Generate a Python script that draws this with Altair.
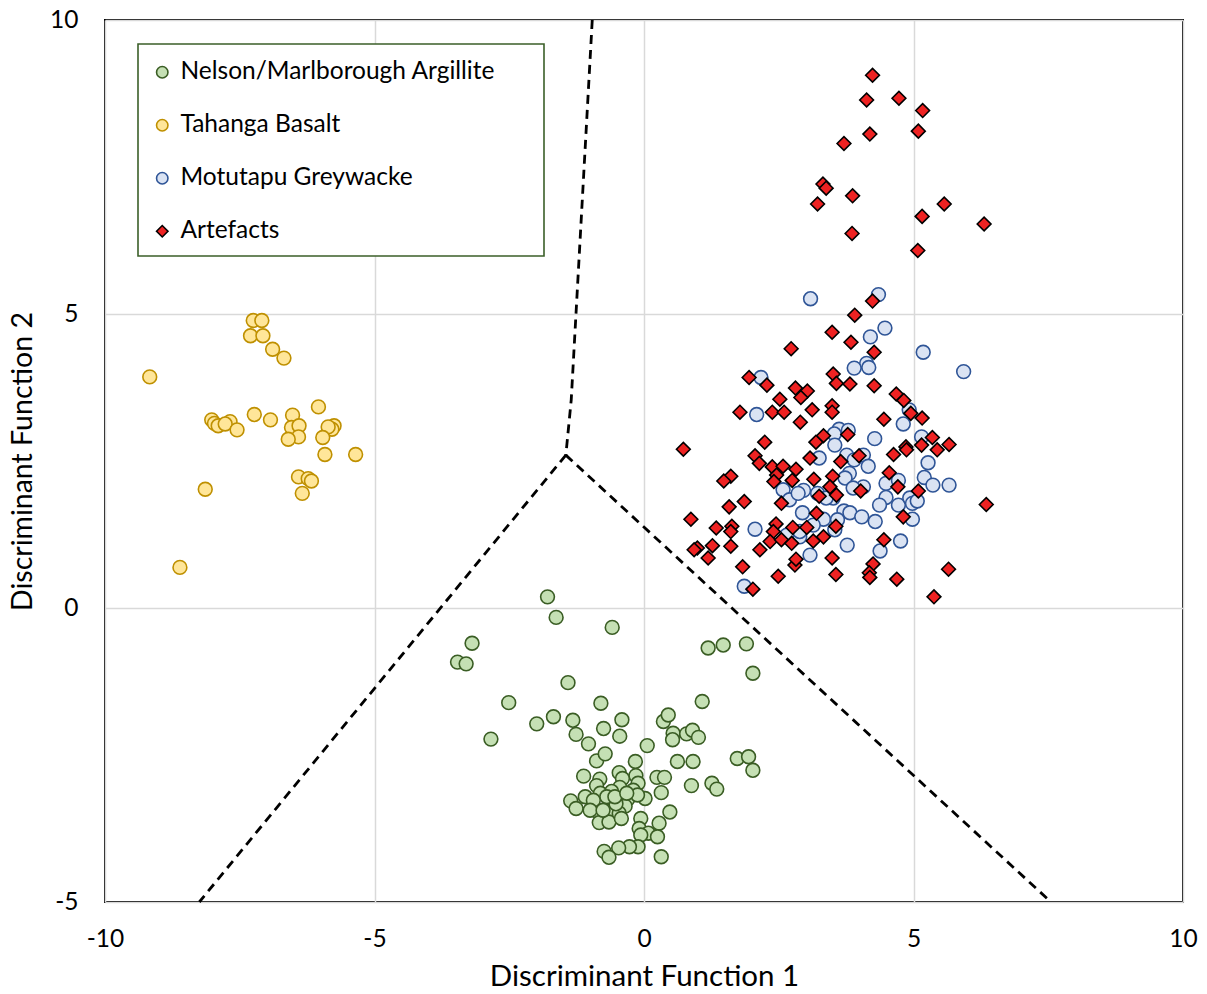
import altair as alt
import pandas as pd

# ---------------- data ----------------
groups = ["Nelson/Marlborough Argillite", "Tahanga Basalt", "Motutapu Greywacke", "Artefacts"]

green_x = [-1.79, -1.63, -0.59, -3.19, -3.46, -3.30, 1.19, 1.47, 1.90, 2.02, -1.41, -2.51, -0.80, 1.08,
           -1.99, -1.68, -1.32, -2.84, -1.26, -0.75, -0.41, -0.45, -1.03, -0.88, -0.72, -0.16, 0.06, 0.36,
           0.45, 0.54, 0.53, 0.79, 0.90, 1.01, 0.62, 0.91, 1.73, 1.94, 2.02, -1.12, 0.24, 0.38, 0.32, 0.88,
           1.26, 1.35, 0.02, 0.48, 0.28, -0.06, -0.09, 0.08, -0.06, 0.25, 0.32, -0.11, -0.27, -0.47, -0.74,
           -0.65, -1.36, -1.26, -1.09, -0.82, -0.46, -0.15, -0.11, -0.40, -0.88, -0.81, -0.45, -0.60, -0.20,
           -0.30, -0.12, -0.35, -0.88, -0.62, -0.83, -0.65, -0.46, -0.42, -0.52, -0.69, -0.94, -0.54, -1.00,
           -0.76, -0.32]
green_y = [0.19, -0.16, -0.33, -0.60, -0.92, -0.95, -0.68, -0.63, -0.61, -1.11, -1.27, -1.61, -1.62, -1.59,
           -1.97, -1.85, -1.91, -2.23, -2.15, -2.05, -1.90, -2.18, -2.31, -2.60, -2.48, -2.61, -2.34, -1.93,
           -1.82, -2.13, -2.24, -2.14, -2.08, -2.20, -2.61, -2.61, -2.56, -2.53, -2.76, -2.86, -2.88, -2.88,
           -3.14, -3.02, -2.98, -3.08, -3.24, -3.47, -3.66, -3.58, -3.75, -3.83, -3.86, -3.89, -4.23, -4.06,
           -4.06, -4.08, -4.14, -4.24, -3.28, -3.41, -3.21, -2.91, -2.80, -2.85, -2.98, -2.90, -3.02, -3.15,
           -3.05, -3.12, -3.10, -3.25, -3.18, -3.37, -3.45, -3.45, -3.65, -3.64, -3.49, -3.58, -3.33, -3.21,
           -3.27, -3.21, -3.44, -3.44, -3.15]

yellow_x = [-7.25, -7.09, -7.30, -7.07, -6.89, -6.68, -9.17, -6.04, -7.23, -6.93, -6.52, -8.02, -7.97,
            -7.90, -7.68, -7.77, -7.55, -6.54, -6.40, -6.41, -6.60, -5.75, -5.79, -5.86, -5.96, -5.92,
            -5.35, -6.41, -6.23, -6.17, -6.34, -8.14, -8.61]
yellow_y = [4.89, 4.89, 4.63, 4.63, 4.40, 4.25, 3.93, 3.42, 3.29, 3.20, 3.28, 3.20, 3.14, 3.10, 3.17,
            3.13, 3.03, 3.07, 3.10, 2.91, 2.87, 3.10, 3.04, 3.08, 2.90, 2.61, 2.61, 2.23, 2.20, 2.16,
            1.95, 2.02, 0.69]

blue_x = [3.09, 2.17, 2.09, 4.35, 4.47, 4.20, 5.18, 5.93, 4.13, 4.17, 3.90, 4.92, 4.81, 3.62, 3.79, 3.53,
          4.28, 5.15, 3.54, 3.25, 2.58, 2.70, 2.96, 2.94, 3.33, 2.06, 2.89, 2.65, 3.08, 1.86, 3.51, 3.14,
          4.07, 4.16, 3.81, 3.73, 4.49, 4.72, 5.27, 5.20, 5.36, 5.66, 4.07, 4.49, 4.37, 4.72, 4.93, 4.98,
          5.07, 4.98, 3.71, 3.82, 4.04, 4.29, 3.59, 3.54, 4.76, 4.38, 3.77, 3.76, 3.90, 3.22, 3.38, 2.89,
          2.86, 3.88]
blue_y = [5.26, 3.92, 3.29, 5.33, 4.76, 4.61, 4.35, 4.02, 4.16, 4.09, 4.08, 3.37, 3.13, 3.04, 3.02, 2.96,
          2.88, 2.91, 2.77, 2.55, 2.01, 1.84, 2.00, 1.62, 1.51, 1.34, 1.21, 1.24, 0.90, 0.37, 1.87, 1.41,
          2.60, 2.41, 2.29, 2.21, 2.12, 2.17, 2.47, 2.22, 2.09, 2.09, 2.06, 1.88, 1.75, 1.75, 1.87, 1.78,
          1.82, 1.51, 1.65, 1.62, 1.55, 1.47, 1.50, 1.33, 1.14, 0.97, 1.07, 2.60, 2.52, 1.95, 1.87, 1.30,
          1.95, 2.04]

red_x = [4.24, 4.13, 4.73, 5.17, 5.09, 4.19, 3.71, 3.32, 3.38, 3.87, 3.22, 5.57, 5.16, 6.31, 3.86, 5.08,
         3.49, 2.73, 1.95, 2.28, 3.51, 3.57, 2.81, 3.03, 2.91, 2.52, 1.78, 2.38, 2.60, 3.12, 3.49, 3.49,
         2.90, 3.33, 3.19, 2.24, 0.73,
         4.24, 3.91, 3.84, 4.27, 3.82, 4.27, 4.68, 4.82, 4.95, 5.16, 4.45, 3.78, 5.35, 5.15, 5.66, 4.86,
         2.06, 2.14, 2.38, 2.58, 2.82, 2.46, 3.08, 3.50, 3.15, 2.75, 2.41, 1.61, 1.48, 3.45, 3.25, 3.57,
         1.86, 1.58, 2.55, 3.20, 0.87, 1.34, 1.63, 1.61, 2.45, 2.40, 2.76, 3.02, 3.56, 1.27, 0.99, 0.93,
         1.61, 1.19, 2.15, 2.34, 2.55, 2.74, 3.33, 3.14, 2.80, 2.82, 3.49, 1.83, 2.49, 3.56, 2.02,
         3.99, 4.63, 4.87, 5.44, 3.65, 4.55, 4.71, 5.09, 4.02, 6.35, 4.81, 4.45, 4.25, 4.18, 4.19, 4.69,
         5.65, 5.38]
red_y = [9.06, 8.64, 8.67, 8.46, 8.11, 8.06, 7.90, 7.21, 7.14, 7.01, 6.87, 6.87, 6.66, 6.53, 6.37, 6.08,
         4.69, 4.41, 3.92, 3.79, 3.98, 3.82, 3.74, 3.69, 3.58, 3.55, 3.33, 3.33, 3.33, 3.37, 3.44, 3.33,
         3.16, 2.93, 2.82, 2.82, 2.70,
         5.22, 4.98, 4.52, 4.35, 3.81, 3.78, 3.64, 3.53, 3.31, 3.23, 3.21, 2.95, 2.90, 2.77, 2.78, 2.74,
         2.59, 2.46, 2.40, 2.41, 2.36, 2.26, 2.55, 2.24, 2.19, 2.17, 2.15, 2.24, 2.16, 2.06, 1.90, 1.92,
         1.81, 1.72, 1.78, 1.61, 1.51, 1.36, 1.39, 1.30, 1.43, 1.30, 1.37, 1.37, 1.39, 1.06, 1.02, 0.99,
         1.05, 0.85, 0.99, 1.13, 1.16, 1.10, 1.21, 1.14, 0.73, 0.83, 0.85, 0.70, 0.54, 0.57, 0.32,
         2.59, 2.61, 2.69, 2.69, 2.49, 2.30, 2.06, 1.99, 1.99, 1.76, 1.55, 1.16, 0.75, 0.60, 0.52, 0.49,
         0.66, 0.19]

# dashed discriminant boundaries
line_seg = ["a", "a", "a", "b", "b", "c", "c"]
line_ord = [0, 1, 2, 0, 1, 0, 1]
line_x = [-0.96, -1.35, -1.45, -1.45, -8.25, -1.45, 7.55]
line_y = [10.0, 3.54, 2.60, 2.60, -5.0, 2.60, -5.0]

x_ticks = [-10, -5, 0, 5, 10]
y_ticks = [-5, 0, 5, 10]

fills = ["#C5E0B4", "#FFE699", "#DAE3F3", "#EE2222"]
strokes = ["#3A5D24", "#BF9000", "#2F5597", "#000000"]
shapes = ["circle", "circle", "circle", "diamond"]

# ---------------- build table ----------------
rows = []
for g, xs, ys in [(groups[0], green_x, green_y), (groups[1], yellow_x, yellow_y),
                  (groups[2], blue_x, blue_y), (groups[3], red_x, red_y)]:
    for a, b in zip(xs, ys):
        rows.append({"x": a, "y": b, "group": g})
pts = pd.DataFrame(rows)
lines = pd.DataFrame({"seg": line_seg, "ord": line_ord, "x": line_x, "y": line_y})

FONT = "Lato"

xscale = alt.Scale(domain=[-10, 10], nice=False, zero=False)
yscale = alt.Scale(domain=[-5, 10], nice=False, zero=False)

xaxis = alt.Axis(title="Discriminant Function 1", values=x_ticks, labelExpr="datum.value + ''",
                 grid=True, ticks=False, tickSize=0, domain=False, labelFlush=False,
                 labelPadding=25, titlePadding=12, titleFontSize=29.5)
yaxis = alt.Axis(title="Discriminant Function 2", values=y_ticks, labelExpr="datum.value + ''",
                 grid=True, ticks=False, tickSize=0, domain=False, labelFlush=False,
                 labelPadding=27, titlePadding=12, titleFontSize=28.5)

frame = alt.Chart(pd.DataFrame({"a": [0]})).mark_rect(
    fill="white", stroke="#3B5F28", strokeWidth=1.6
).encode(x=alt.value(33), x2=alt.value(439), y=alt.value(24), y2=alt.value(236))

dash = alt.Chart(lines).mark_line(color="black", strokeDash=[9, 6], strokeWidth=2.8).encode(
    x=alt.X("x:Q", scale=xscale, axis=xaxis),
    y=alt.Y("y:Q", scale=yscale, axis=yaxis),
    detail="seg:N",
    order="ord:Q",
)

leg = alt.Legend(title=None, zindex=2, orient="none", legendX=45, legendY=40)

points = alt.Chart(pts).mark_point(filled=True, opacity=1, strokeWidth=1.6, size=190).encode(
    x=alt.X("x:Q", scale=xscale, axis=xaxis),
    y=alt.Y("y:Q", scale=yscale, axis=yaxis),
    fill=alt.Fill("group:N", scale=alt.Scale(domain=groups, range=fills), legend=leg),
    stroke=alt.Stroke("group:N", scale=alt.Scale(domain=groups, range=strokes), legend=leg),
    shape=alt.Shape("group:N", scale=alt.Scale(domain=groups, range=shapes), legend=leg),
)

chart = alt.layer(frame, dash, points).properties(
    width=1078, height=882,
    autosize=alt.AutoSizeParams(type="none"),
    padding={"left": 105, "top": 20, "right": 24, "bottom": 92},
).configure_view(
    stroke="black", strokeWidth=2
).configure_axis(
    gridColor="#D9D9D9", gridWidth=1.5,
    labelFont=FONT, labelFontSize=24.5, labelColor="#000000",
    titleFont=FONT, titleFontWeight="normal", titleColor="#000000",
).configure_legend(
    labelFont=FONT, labelFontSize=24.5, labelColor="#000000", labelLimit=500,
    symbolSize=130, symbolStrokeWidth=1.6, labelOffset=6, rowPadding=28,
    padding=0, titlePadding=0,
)

chart.save("out.html", embed_options={"renderer": "svg", "actions": False})
